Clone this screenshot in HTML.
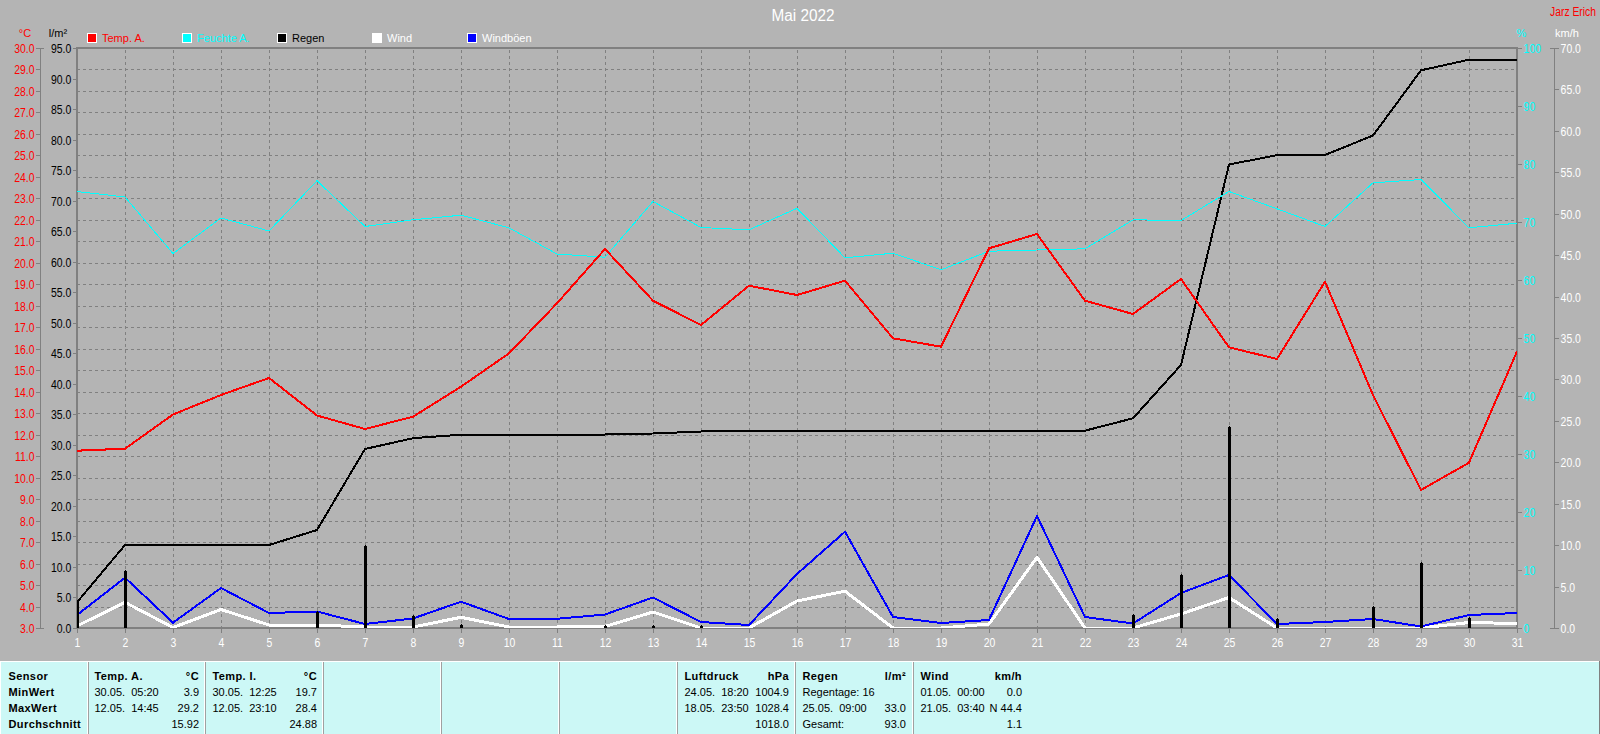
<!DOCTYPE html><html><head><meta charset="utf-8"><style>html,body{margin:0;padding:0;background:#b4b4b4;width:1600px;height:734px;overflow:hidden}svg{display:block}text{font-family:"Liberation Sans",sans-serif}</style></head><body>
<svg width="1600" height="734" viewBox="0 0 1600 734">
<rect width="1600" height="734" fill="#b4b4b4"/>
<path d="M77 69.5H1517M77 91.5H1517M77 112.5H1517M77 134.5H1517M77 155.5H1517M77 177.5H1517M77 198.5H1517M77 220.5H1517M77 241.5H1517M77 263.5H1517M77 284.5H1517M77 306.5H1517M77 327.5H1517M77 349.5H1517M77 370.5H1517M77 392.5H1517M77 413.5H1517M77 435.5H1517M77 456.5H1517M77 478.5H1517M77 499.5H1517M77 521.5H1517M77 542.5H1517M77 564.5H1517M77 585.5H1517M77 607.5H1517" stroke="#808080" stroke-width="1" stroke-dasharray="3 3" fill="none" shape-rendering="crispEdges"/>
<path d="M125.5 629V48M173.5 629V48M221.5 629V48M269.5 629V48M317.5 629V48M365.5 629V48M413.5 629V48M461.5 629V48M509.5 629V48M557.5 629V48M605.5 629V48M653.5 629V48M701.5 629V48M749.5 629V48M797.5 629V48M845.5 629V48M893.5 629V48M941.5 629V48M989.5 629V48M1037.5 629V48M1085.5 629V48M1133.5 629V48M1181.5 629V48M1229.5 629V48M1277.5 629V48M1325.5 629V48M1373.5 629V48M1421.5 629V48M1469.5 629V48" stroke="#808080" stroke-width="1" stroke-dasharray="3 3" fill="none" shape-rendering="crispEdges"/>
<path d="M77 48H1517V628H77Z" stroke="#808080" stroke-width="2" fill="none" shape-rendering="crispEdges"/>
<path d="M77.5 628V633M125.5 628V633M173.5 628V633M221.5 628V633M269.5 628V633M317.5 628V633M365.5 628V633M413.5 628V633M461.5 628V633M509.5 628V633M557.5 628V633M605.5 628V633M653.5 628V633M701.5 628V633M749.5 628V633M797.5 628V633M845.5 628V633M893.5 628V633M941.5 628V633M989.5 628V633M1037.5 628V633M1085.5 628V633M1133.5 628V633M1181.5 628V633M1229.5 628V633M1277.5 628V633M1325.5 628V633M1373.5 628V633M1421.5 628V633M1469.5 628V633M1517.5 628V633" stroke="#808080" stroke-width="1" fill="none" shape-rendering="crispEdges"/>
<path d="M40.5 48V629M36 48.5H44M36 69.5H40M36 91.5H40M36 112.5H40M36 134.5H40M36 155.5H40M36 177.5H40M36 198.5H40M36 220.5H40M36 241.5H40M36 263.5H40M36 284.5H40M36 306.5H40M36 327.5H40M36 349.5H40M36 370.5H40M36 392.5H40M36 413.5H40M36 435.5H40M36 456.5H40M36 478.5H40M36 499.5H40M36 521.5H40M36 542.5H40M36 564.5H40M36 585.5H40M36 607.5H40M36 628.5H44M73 628.5H77M73 597.5H77M73 567.5H77M73 536.5H77M73 506.5H77M73 475.5H77M73 445.5H77M73 414.5H77M73 384.5H77M73 353.5H77M73 323.5H77M73 292.5H77M73 262.5H77M73 231.5H77M73 201.5H77M73 170.5H77M73 140.5H77M73 109.5H77M73 79.5H77M73 48.5H77M1517 628.5H1522M1517 570.5H1522M1517 512.5H1522M1517 454.5H1522M1517 396.5H1522M1517 338.5H1522M1517 280.5H1522M1517 222.5H1522M1517 164.5H1522M1517 106.5H1522M1517 48.5H1522M1554.5 48V629M1550 628.5H1559M1555 587.5H1559M1555 545.5H1559M1555 504.5H1559M1555 462.5H1559M1555 421.5H1559M1555 379.5H1559M1555 338.5H1559M1555 297.5H1559M1555 255.5H1559M1555 214.5H1559M1555 172.5H1559M1555 131.5H1559M1555 89.5H1559M1550 48.5H1559" stroke="#808080" stroke-width="1" fill="none" shape-rendering="crispEdges"/>
<text transform="translate(34.5 53) scale(0.87 1)" fill="#ff0000" font-size="12" text-anchor="end">30.0</text>
<text transform="translate(34.5 74) scale(0.87 1)" fill="#ff0000" font-size="12" text-anchor="end">29.0</text>
<text transform="translate(34.5 96) scale(0.87 1)" fill="#ff0000" font-size="12" text-anchor="end">28.0</text>
<text transform="translate(34.5 117) scale(0.87 1)" fill="#ff0000" font-size="12" text-anchor="end">27.0</text>
<text transform="translate(34.5 139) scale(0.87 1)" fill="#ff0000" font-size="12" text-anchor="end">26.0</text>
<text transform="translate(34.5 160) scale(0.87 1)" fill="#ff0000" font-size="12" text-anchor="end">25.0</text>
<text transform="translate(34.5 182) scale(0.87 1)" fill="#ff0000" font-size="12" text-anchor="end">24.0</text>
<text transform="translate(34.5 203) scale(0.87 1)" fill="#ff0000" font-size="12" text-anchor="end">23.0</text>
<text transform="translate(34.5 225) scale(0.87 1)" fill="#ff0000" font-size="12" text-anchor="end">22.0</text>
<text transform="translate(34.5 246) scale(0.87 1)" fill="#ff0000" font-size="12" text-anchor="end">21.0</text>
<text transform="translate(34.5 268) scale(0.87 1)" fill="#ff0000" font-size="12" text-anchor="end">20.0</text>
<text transform="translate(34.5 289) scale(0.87 1)" fill="#ff0000" font-size="12" text-anchor="end">19.0</text>
<text transform="translate(34.5 311) scale(0.87 1)" fill="#ff0000" font-size="12" text-anchor="end">18.0</text>
<text transform="translate(34.5 332) scale(0.87 1)" fill="#ff0000" font-size="12" text-anchor="end">17.0</text>
<text transform="translate(34.5 354) scale(0.87 1)" fill="#ff0000" font-size="12" text-anchor="end">16.0</text>
<text transform="translate(34.5 375) scale(0.87 1)" fill="#ff0000" font-size="12" text-anchor="end">15.0</text>
<text transform="translate(34.5 397) scale(0.87 1)" fill="#ff0000" font-size="12" text-anchor="end">14.0</text>
<text transform="translate(34.5 418) scale(0.87 1)" fill="#ff0000" font-size="12" text-anchor="end">13.0</text>
<text transform="translate(34.5 440) scale(0.87 1)" fill="#ff0000" font-size="12" text-anchor="end">12.0</text>
<text transform="translate(34.5 461) scale(0.87 1)" fill="#ff0000" font-size="12" text-anchor="end">11.0</text>
<text transform="translate(34.5 483) scale(0.87 1)" fill="#ff0000" font-size="12" text-anchor="end">10.0</text>
<text transform="translate(34.5 504) scale(0.87 1)" fill="#ff0000" font-size="12" text-anchor="end">9.0</text>
<text transform="translate(34.5 526) scale(0.87 1)" fill="#ff0000" font-size="12" text-anchor="end">8.0</text>
<text transform="translate(34.5 547) scale(0.87 1)" fill="#ff0000" font-size="12" text-anchor="end">7.0</text>
<text transform="translate(34.5 569) scale(0.87 1)" fill="#ff0000" font-size="12" text-anchor="end">6.0</text>
<text transform="translate(34.5 590) scale(0.87 1)" fill="#ff0000" font-size="12" text-anchor="end">5.0</text>
<text transform="translate(34.5 612) scale(0.87 1)" fill="#ff0000" font-size="12" text-anchor="end">4.0</text>
<text transform="translate(34.5 633) scale(0.87 1)" fill="#ff0000" font-size="12" text-anchor="end">3.0</text>
<text transform="translate(71.2 633) scale(0.87 1)" fill="#000000" font-size="12" text-anchor="end">0.0</text>
<text transform="translate(71.2 602) scale(0.87 1)" fill="#000000" font-size="12" text-anchor="end">5.0</text>
<text transform="translate(71.2 572) scale(0.87 1)" fill="#000000" font-size="12" text-anchor="end">10.0</text>
<text transform="translate(71.2 541) scale(0.87 1)" fill="#000000" font-size="12" text-anchor="end">15.0</text>
<text transform="translate(71.2 511) scale(0.87 1)" fill="#000000" font-size="12" text-anchor="end">20.0</text>
<text transform="translate(71.2 480) scale(0.87 1)" fill="#000000" font-size="12" text-anchor="end">25.0</text>
<text transform="translate(71.2 450) scale(0.87 1)" fill="#000000" font-size="12" text-anchor="end">30.0</text>
<text transform="translate(71.2 419) scale(0.87 1)" fill="#000000" font-size="12" text-anchor="end">35.0</text>
<text transform="translate(71.2 389) scale(0.87 1)" fill="#000000" font-size="12" text-anchor="end">40.0</text>
<text transform="translate(71.2 358) scale(0.87 1)" fill="#000000" font-size="12" text-anchor="end">45.0</text>
<text transform="translate(71.2 328) scale(0.87 1)" fill="#000000" font-size="12" text-anchor="end">50.0</text>
<text transform="translate(71.2 297) scale(0.87 1)" fill="#000000" font-size="12" text-anchor="end">55.0</text>
<text transform="translate(71.2 267) scale(0.87 1)" fill="#000000" font-size="12" text-anchor="end">60.0</text>
<text transform="translate(71.2 236) scale(0.87 1)" fill="#000000" font-size="12" text-anchor="end">65.0</text>
<text transform="translate(71.2 206) scale(0.87 1)" fill="#000000" font-size="12" text-anchor="end">70.0</text>
<text transform="translate(71.2 175) scale(0.87 1)" fill="#000000" font-size="12" text-anchor="end">75.0</text>
<text transform="translate(71.2 145) scale(0.87 1)" fill="#000000" font-size="12" text-anchor="end">80.0</text>
<text transform="translate(71.2 114) scale(0.87 1)" fill="#000000" font-size="12" text-anchor="end">85.0</text>
<text transform="translate(71.2 84) scale(0.87 1)" fill="#000000" font-size="12" text-anchor="end">90.0</text>
<text transform="translate(71.2 53) scale(0.87 1)" fill="#000000" font-size="12" text-anchor="end">95.0</text>
<text transform="translate(1523.6 633) scale(0.87 1)" fill="#00ffff" font-size="12">0</text>
<text transform="translate(1523.6 575) scale(0.87 1)" fill="#00ffff" font-size="12">10</text>
<text transform="translate(1523.6 517) scale(0.87 1)" fill="#00ffff" font-size="12">20</text>
<text transform="translate(1523.6 459) scale(0.87 1)" fill="#00ffff" font-size="12">30</text>
<text transform="translate(1523.6 401) scale(0.87 1)" fill="#00ffff" font-size="12">40</text>
<text transform="translate(1523.6 343) scale(0.87 1)" fill="#00ffff" font-size="12">50</text>
<text transform="translate(1523.6 285) scale(0.87 1)" fill="#00ffff" font-size="12">60</text>
<text transform="translate(1523.6 227) scale(0.87 1)" fill="#00ffff" font-size="12">70</text>
<text transform="translate(1523.6 169) scale(0.87 1)" fill="#00ffff" font-size="12">80</text>
<text transform="translate(1523.6 111) scale(0.87 1)" fill="#00ffff" font-size="12">90</text>
<text transform="translate(1523.6 53) scale(0.87 1)" fill="#00ffff" font-size="12">100</text>
<text transform="translate(1560.6 633) scale(0.87 1)" fill="#ffffff" font-size="12">0.0</text>
<text transform="translate(1560.6 592) scale(0.87 1)" fill="#ffffff" font-size="12">5.0</text>
<text transform="translate(1560.6 550) scale(0.87 1)" fill="#ffffff" font-size="12">10.0</text>
<text transform="translate(1560.6 509) scale(0.87 1)" fill="#ffffff" font-size="12">15.0</text>
<text transform="translate(1560.6 467) scale(0.87 1)" fill="#ffffff" font-size="12">20.0</text>
<text transform="translate(1560.6 426) scale(0.87 1)" fill="#ffffff" font-size="12">25.0</text>
<text transform="translate(1560.6 384) scale(0.87 1)" fill="#ffffff" font-size="12">30.0</text>
<text transform="translate(1560.6 343) scale(0.87 1)" fill="#ffffff" font-size="12">35.0</text>
<text transform="translate(1560.6 302) scale(0.87 1)" fill="#ffffff" font-size="12">40.0</text>
<text transform="translate(1560.6 260) scale(0.87 1)" fill="#ffffff" font-size="12">45.0</text>
<text transform="translate(1560.6 219) scale(0.87 1)" fill="#ffffff" font-size="12">50.0</text>
<text transform="translate(1560.6 177) scale(0.87 1)" fill="#ffffff" font-size="12">55.0</text>
<text transform="translate(1560.6 136) scale(0.87 1)" fill="#ffffff" font-size="12">60.0</text>
<text transform="translate(1560.6 94) scale(0.87 1)" fill="#ffffff" font-size="12">65.0</text>
<text transform="translate(1560.6 53) scale(0.87 1)" fill="#ffffff" font-size="12">70.0</text>
<text transform="translate(77.5 647) scale(0.87 1)" fill="#ffffff" font-size="12" text-anchor="middle">1</text>
<text transform="translate(125.5 647) scale(0.87 1)" fill="#ffffff" font-size="12" text-anchor="middle">2</text>
<text transform="translate(173.5 647) scale(0.87 1)" fill="#ffffff" font-size="12" text-anchor="middle">3</text>
<text transform="translate(221.5 647) scale(0.87 1)" fill="#ffffff" font-size="12" text-anchor="middle">4</text>
<text transform="translate(269.5 647) scale(0.87 1)" fill="#ffffff" font-size="12" text-anchor="middle">5</text>
<text transform="translate(317.5 647) scale(0.87 1)" fill="#ffffff" font-size="12" text-anchor="middle">6</text>
<text transform="translate(365.5 647) scale(0.87 1)" fill="#ffffff" font-size="12" text-anchor="middle">7</text>
<text transform="translate(413.5 647) scale(0.87 1)" fill="#ffffff" font-size="12" text-anchor="middle">8</text>
<text transform="translate(461.5 647) scale(0.87 1)" fill="#ffffff" font-size="12" text-anchor="middle">9</text>
<text transform="translate(509.5 647) scale(0.87 1)" fill="#ffffff" font-size="12" text-anchor="middle">10</text>
<text transform="translate(557.5 647) scale(0.87 1)" fill="#ffffff" font-size="12" text-anchor="middle">11</text>
<text transform="translate(605.5 647) scale(0.87 1)" fill="#ffffff" font-size="12" text-anchor="middle">12</text>
<text transform="translate(653.5 647) scale(0.87 1)" fill="#ffffff" font-size="12" text-anchor="middle">13</text>
<text transform="translate(701.5 647) scale(0.87 1)" fill="#ffffff" font-size="12" text-anchor="middle">14</text>
<text transform="translate(749.5 647) scale(0.87 1)" fill="#ffffff" font-size="12" text-anchor="middle">15</text>
<text transform="translate(797.5 647) scale(0.87 1)" fill="#ffffff" font-size="12" text-anchor="middle">16</text>
<text transform="translate(845.5 647) scale(0.87 1)" fill="#ffffff" font-size="12" text-anchor="middle">17</text>
<text transform="translate(893.5 647) scale(0.87 1)" fill="#ffffff" font-size="12" text-anchor="middle">18</text>
<text transform="translate(941.5 647) scale(0.87 1)" fill="#ffffff" font-size="12" text-anchor="middle">19</text>
<text transform="translate(989.5 647) scale(0.87 1)" fill="#ffffff" font-size="12" text-anchor="middle">20</text>
<text transform="translate(1037.5 647) scale(0.87 1)" fill="#ffffff" font-size="12" text-anchor="middle">21</text>
<text transform="translate(1085.5 647) scale(0.87 1)" fill="#ffffff" font-size="12" text-anchor="middle">22</text>
<text transform="translate(1133.5 647) scale(0.87 1)" fill="#ffffff" font-size="12" text-anchor="middle">23</text>
<text transform="translate(1181.5 647) scale(0.87 1)" fill="#ffffff" font-size="12" text-anchor="middle">24</text>
<text transform="translate(1229.5 647) scale(0.87 1)" fill="#ffffff" font-size="12" text-anchor="middle">25</text>
<text transform="translate(1277.5 647) scale(0.87 1)" fill="#ffffff" font-size="12" text-anchor="middle">26</text>
<text transform="translate(1325.5 647) scale(0.87 1)" fill="#ffffff" font-size="12" text-anchor="middle">27</text>
<text transform="translate(1373.5 647) scale(0.87 1)" fill="#ffffff" font-size="12" text-anchor="middle">28</text>
<text transform="translate(1421.5 647) scale(0.87 1)" fill="#ffffff" font-size="12" text-anchor="middle">29</text>
<text transform="translate(1469.5 647) scale(0.87 1)" fill="#ffffff" font-size="12" text-anchor="middle">30</text>
<text transform="translate(1517.5 647) scale(0.87 1)" fill="#ffffff" font-size="12" text-anchor="middle">31</text>
<text x="25" y="37" fill="#ff0000" font-size="11" text-anchor="middle">°C</text>
<text x="58" y="37" fill="#000000" font-size="11" text-anchor="middle">l/m²</text>
<text x="1521.5" y="37" fill="#00ffff" font-size="11" text-anchor="middle">%</text>
<text x="1567" y="37" fill="#ffffff" font-size="11" text-anchor="middle">km/h</text>
<text x="803" y="21" fill="#ffffff" font-size="16" text-anchor="middle" textLength="63" lengthAdjust="spacingAndGlyphs">Mai 2022</text>
<text x="1550" y="16" fill="#ff0000" font-size="12" textLength="46" lengthAdjust="spacingAndGlyphs">Jarz Erich</text>
<rect x="87.5" y="33.5" width="9" height="9" fill="#ff0000" stroke="#ffffff" stroke-width="1" shape-rendering="crispEdges"/>
<text x="102" y="42" fill="#ff0000" font-size="11">Temp. A.</text>
<rect x="182.5" y="33.5" width="9" height="9" fill="#00ffff" stroke="#ffffff" stroke-width="1" shape-rendering="crispEdges"/>
<text x="197" y="42" fill="#00ffff" font-size="11">Feuchte A.</text>
<rect x="277.5" y="33.5" width="9" height="9" fill="#000000" stroke="#ffffff" stroke-width="1" shape-rendering="crispEdges"/>
<text x="292" y="42" fill="#000000" font-size="11">Regen</text>
<rect x="372.5" y="33.5" width="9" height="9" fill="#ffffff" stroke="#ffffff" stroke-width="1" shape-rendering="crispEdges"/>
<text x="387" y="42" fill="#ffffff" font-size="11">Wind</text>
<rect x="467.5" y="33.5" width="9" height="9" fill="#0000ff" stroke="#ffffff" stroke-width="1" shape-rendering="crispEdges"/>
<text x="482" y="42" fill="#ffffff" font-size="11">Windböen</text>
<defs><clipPath id="pc"><rect x="77" y="47" width="1440" height="581"/></clipPath></defs><g clip-path="url(#pc)">
<polyline points="77,626.0 125,602.3 173,627.5 221,609.5 269,625.0 317,625.0 365,627.0 413,627.0 461,617.3 509,627.0 557,627.0 605,626.5 653,612.0 701,628.0 749,628.0 797,601.0 845,591.2 893,628.0 941,628.0 989,624.0 1037,557.3 1085,628.0 1133,628.0 1181,614.0 1229,597.5 1277,628.0 1325,628.0 1373,628.0 1421,628.0 1469,622.5 1517,623.5" stroke="#ffffff" stroke-width="3" fill="none" stroke-linejoin="round" stroke-linecap="round" shape-rendering="crispEdges"/>
<polyline points="77,615.0 125,577.7 173,622.7 221,588.0 269,613.0 317,611.5 365,624.0 413,618.5 461,601.7 509,619.0 557,618.8 605,614.5 653,597.5 701,622.0 749,625.0 797,574.0 845,531.7 893,617.0 941,623.0 989,620.0 1037,516.0 1085,617.0 1133,623.5 1181,593.0 1229,575.0 1277,624.0 1325,622.0 1373,619.0 1421,626.5 1469,615.0 1517,613.0" stroke="#0000ff" stroke-width="2" fill="none" stroke-linejoin="round" stroke-linecap="round" shape-rendering="crispEdges"/>
<path d="M77.5 602V628M125.5 571V628M317.5 612V628M365.5 546V628M413.5 616V628M461.5 625V628M605.5 626V628M653.5 626V628M701.5 626V628M1133.5 615V628M1181.5 575V628M1229.5 427V628M1277.5 619V628M1373.5 607V628M1421.5 563V628M1469.5 618V628" stroke="#000" stroke-width="3" fill="none" stroke-linecap="butt" shape-rendering="crispEdges"/>
<path d="M77.5 601V602M125.5 570V571M317.5 611V612M365.5 545V546M413.5 615V616M461.5 624V625M605.5 625V626M653.5 625V626M701.5 625V626M1133.5 614V615M1181.5 574V575M1229.5 426V427M1277.5 618V619M1373.5 606V607M1421.5 562V563M1469.5 617V618" stroke="#000" stroke-width="1" fill="none" shape-rendering="crispEdges"/>
<polyline points="77,602.3 125,545.0 173,545.0 221,545.0 269,545.0 317,530.0 365,449.0 413,438.2 461,434.7 509,434.5 557,434.5 605,434.5 653,433.5 701,431.5 749,431.0 797,431.0 845,431.0 893,431.0 941,431.0 989,431.0 1037,431.0 1085,430.7 1133,418.3 1181,365.0 1229,164.5 1277,155.2 1325,155.0 1373,135.5 1421,70.3 1469,59.7 1517,59.7" stroke="#000000" stroke-width="2" fill="none" stroke-linejoin="round" stroke-linecap="round" shape-rendering="crispEdges"/>
<polyline points="77,191.5 125,197.0 173,253.5 221,218.0 269,231.0 317,180.7 365,226.5 413,219.8 461,215.2 509,227.8 557,254.0 605,257.2 653,201.5 701,227.5 749,229.8 797,208.3 845,257.8 893,253.2 941,269.8 989,251.2 1037,250.0 1085,248.8 1133,219.8 1181,220.5 1229,191.5 1277,208.8 1325,226.5 1373,182.8 1421,179.5 1469,227.8 1517,223.2" stroke="#00ffff" stroke-width="1" fill="none" stroke-linejoin="round" stroke-linecap="round" shape-rendering="crispEdges"/>
<polyline points="77,450.7 125,448.7 173,414.5 221,395.0 269,378.0 317,415.5 365,429.0 413,416.7 461,386.7 509,353.3 557,303.3 605,249.0 653,300.7 701,325.0 749,285.7 797,295.0 845,280.7 893,338.3 941,346.7 989,248.3 1037,234.0 1085,300.7 1133,314.0 1181,279.0 1229,347.3 1277,359.0 1325,281.7 1373,395.0 1421,490.0 1469,462.7 1517,351.5" stroke="#ff0000" stroke-width="2" fill="none" stroke-linejoin="round" stroke-linecap="round" shape-rendering="crispEdges"/>
</g>
<rect x="0" y="661" width="1600" height="73" fill="#ffffff"/>
<rect x="1" y="662" width="1598" height="72" fill="#ccf8f6"/>
<rect x="1599" y="661" width="1" height="73" fill="#808080"/>
<rect x="87" y="662" width="1" height="73" fill="#ffffff"/>
<rect x="88" y="662" width="1" height="73" fill="#a0a0a0"/>
<rect x="204" y="662" width="1" height="73" fill="#ffffff"/>
<rect x="205" y="662" width="1" height="73" fill="#a0a0a0"/>
<rect x="322" y="662" width="1" height="73" fill="#ffffff"/>
<rect x="323" y="662" width="1" height="73" fill="#a0a0a0"/>
<rect x="440" y="662" width="1" height="73" fill="#ffffff"/>
<rect x="441" y="662" width="1" height="73" fill="#a0a0a0"/>
<rect x="558" y="662" width="1" height="73" fill="#ffffff"/>
<rect x="559" y="662" width="1" height="73" fill="#a0a0a0"/>
<rect x="676" y="662" width="1" height="73" fill="#ffffff"/>
<rect x="677" y="662" width="1" height="73" fill="#a0a0a0"/>
<rect x="794" y="662" width="1" height="73" fill="#ffffff"/>
<rect x="795" y="662" width="1" height="73" fill="#a0a0a0"/>
<rect x="912" y="662" width="1" height="73" fill="#ffffff"/>
<rect x="913" y="662" width="1" height="73" fill="#a0a0a0"/>
<text x="8.5" y="680" fill="#000" font-size="11" font-weight="bold" letter-spacing="0.4">Sensor</text>
<text x="8.5" y="696" fill="#000" font-size="11" font-weight="bold" letter-spacing="0.4">MinWert</text>
<text x="8.5" y="712" fill="#000" font-size="11" font-weight="bold" letter-spacing="0.4">MaxWert</text>
<text x="8.5" y="728" fill="#000" font-size="11" font-weight="bold" letter-spacing="0.4">Durchschnitt</text>
<text x="94.5" y="680" fill="#000" font-size="11" font-weight="bold" letter-spacing="0.4">Temp. A.</text>
<text x="199" y="680" fill="#000" font-size="11" font-weight="bold" letter-spacing="0.4" text-anchor="end">°C</text>
<text x="94.5" y="696" fill="#000" font-size="11" xml:space="preserve">30.05.  05:20</text>
<text x="199" y="696" fill="#000" font-size="11" text-anchor="end">3.9</text>
<text x="94.5" y="712" fill="#000" font-size="11" xml:space="preserve">12.05.  14:45</text>
<text x="199" y="712" fill="#000" font-size="11" text-anchor="end">29.2</text>
<text x="199" y="728" fill="#000" font-size="11" text-anchor="end">15.92</text>
<text x="212.5" y="680" fill="#000" font-size="11" font-weight="bold" letter-spacing="0.4">Temp. I.</text>
<text x="317" y="680" fill="#000" font-size="11" font-weight="bold" letter-spacing="0.4" text-anchor="end">°C</text>
<text x="212.5" y="696" fill="#000" font-size="11" xml:space="preserve">30.05.  12:25</text>
<text x="317" y="696" fill="#000" font-size="11" text-anchor="end">19.7</text>
<text x="212.5" y="712" fill="#000" font-size="11" xml:space="preserve">12.05.  23:10</text>
<text x="317" y="712" fill="#000" font-size="11" text-anchor="end">28.4</text>
<text x="317" y="728" fill="#000" font-size="11" text-anchor="end">24.88</text>
<text x="684.5" y="680" fill="#000" font-size="11" font-weight="bold" letter-spacing="0.4">Luftdruck</text>
<text x="789" y="680" fill="#000" font-size="11" font-weight="bold" letter-spacing="0.4" text-anchor="end">hPa</text>
<text x="684.5" y="696" fill="#000" font-size="11" xml:space="preserve">24.05.  18:20</text>
<text x="789" y="696" fill="#000" font-size="11" text-anchor="end">1004.9</text>
<text x="684.5" y="712" fill="#000" font-size="11" xml:space="preserve">18.05.  23:50</text>
<text x="789" y="712" fill="#000" font-size="11" text-anchor="end">1028.4</text>
<text x="789" y="728" fill="#000" font-size="11" text-anchor="end">1018.0</text>
<text x="802.5" y="680" fill="#000" font-size="11" font-weight="bold" letter-spacing="0.4">Regen</text>
<text x="906" y="680" fill="#000" font-size="11" font-weight="bold" letter-spacing="0.4" text-anchor="end">l/m²</text>
<text x="802.5" y="696" fill="#000" font-size="11" xml:space="preserve">Regentage: 16</text>
<text x="802.5" y="712" fill="#000" font-size="11" xml:space="preserve">25.05.  09:00</text>
<text x="906" y="712" fill="#000" font-size="11" text-anchor="end">33.0</text>
<text x="802.5" y="728" fill="#000" font-size="11" xml:space="preserve">Gesamt:</text>
<text x="906" y="728" fill="#000" font-size="11" text-anchor="end">93.0</text>
<text x="920.5" y="680" fill="#000" font-size="11" font-weight="bold" letter-spacing="0.4">Wind</text>
<text x="1022" y="680" fill="#000" font-size="11" font-weight="bold" letter-spacing="0.4" text-anchor="end">km/h</text>
<text x="920.5" y="696" fill="#000" font-size="11" xml:space="preserve">01.05.  00:00</text>
<text x="1022" y="696" fill="#000" font-size="11" text-anchor="end">0.0</text>
<text x="920.5" y="712" fill="#000" font-size="11" xml:space="preserve">21.05.  03:40</text>
<text x="1022" y="712" fill="#000" font-size="11" text-anchor="end">N 44.4</text>
<text x="1022" y="728" fill="#000" font-size="11" text-anchor="end">1.1</text>
</svg></body></html>
